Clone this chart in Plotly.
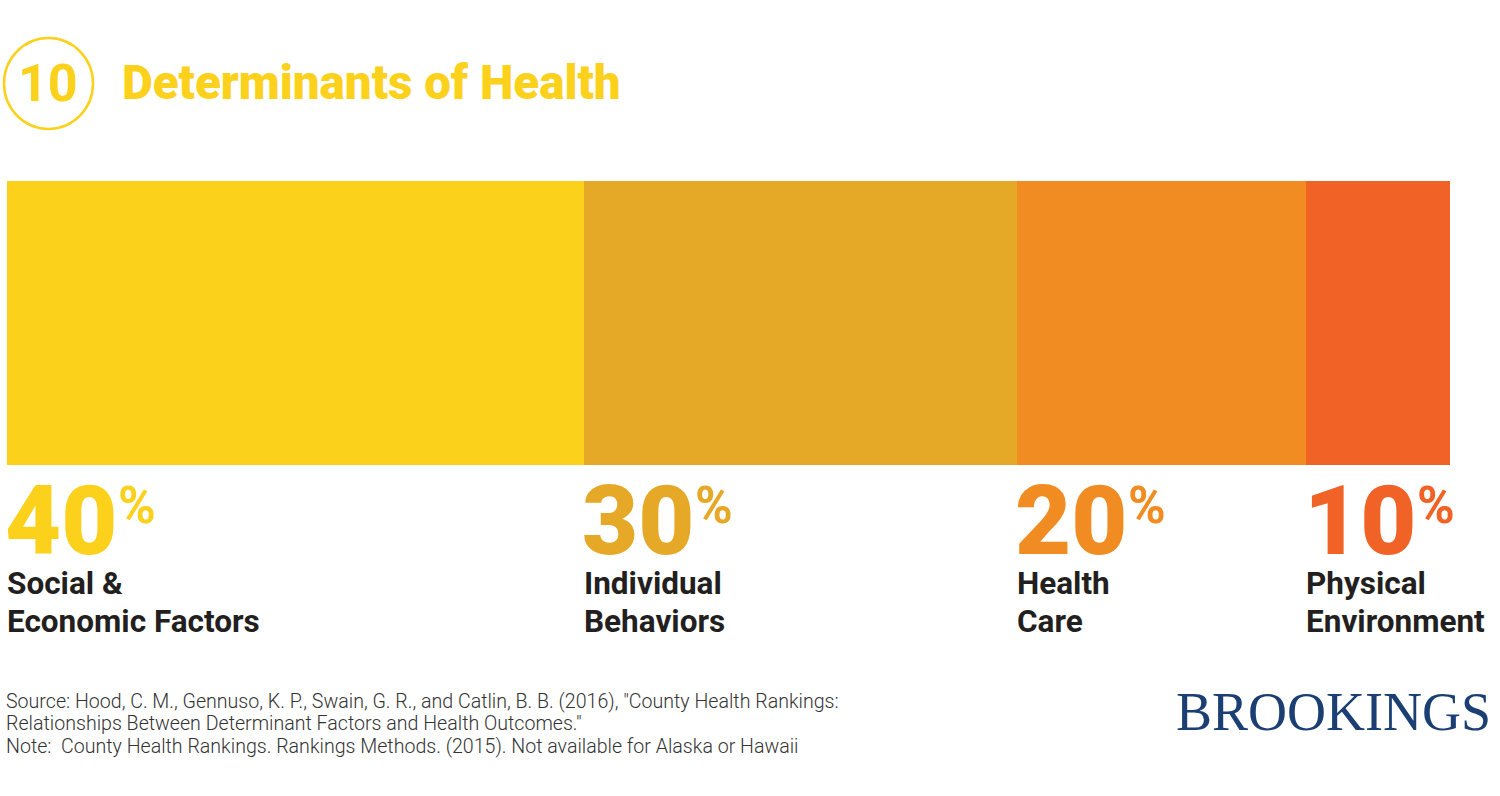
import plotly.graph_objects as go

categories = ["Social &|Economic Factors", "Individual|Behaviors", "Health|Care", "Physical|Environment"]
values = [40, 30, 20, 10]
colors = ["#FCD11C", "#E6A927", "#F18C22", "#F16226"]
title = "Determinants of Health"
badge = "10"
footer_lines = [
    "Source: Hood, C. M., Gennuso, K. P., Swain, G. R., and Catlin, B. B. (2016), \"County Health Rankings:",
    "Relationships Between Determinant Factors and Health Outcomes.\"",
    "Note:  County Health Rankings. Rankings Methods. (2015). Not available for Alaska or Hawaii",
]
brand = "BROOKINGS"

W, H = 1500, 796
def py(p):
    return 1 - p / H

fig = go.Figure()
for cat, v, c in zip(categories, values, colors):
    fig.add_trace(go.Bar(x=[v], y=[0], orientation="h", marker=dict(color=c, line=dict(width=0)),
                         width=1, name=cat.replace("|", " "), hoverinfo="skip"))

fig.update_layout(
    barmode="stack", width=W, height=H, margin=dict(l=0, r=0, t=0, b=0),
    paper_bgcolor="white", plot_bgcolor="white", showlegend=False,
    xaxis=dict(range=[0, 100], domain=[7 / W, 1450 / W], visible=False, fixedrange=True),
    yaxis=dict(range=[-0.5, 0.5], domain=[py(465), py(181)], visible=False, fixedrange=True),
    font=dict(family="Roboto"),
)

ann = []
start = 0
for cat, v, c in zip(categories, values, colors):
    ann.append(dict(x=start, xref="x", y=py(521), yref="paper", xanchor="left", yanchor="middle",
                    text=f"{v}", showarrow=False, xshift=-4,
                    font=dict(family="Roboto", size=97, color=c, weight=900)))
    ann.append(dict(x=start, xref="x", y=py(505), yref="paper", xanchor="left", yanchor="middle",
                    text="%", showarrow=False, xshift=109,
                    font=dict(family="Roboto", size=51, color=c, weight=700)))
    for i, line in enumerate(cat.split("|")):
        ann.append(dict(x=start, xref="x", y=py(583 + 38 * i), yref="paper", xanchor="left", yanchor="middle",
                        text=line, showarrow=False, align="left", xshift=-2,
                        font=dict(family="Roboto", size=31.5, color="#231F20", weight=700)))
    start += v

# Title
ann.append(dict(x=120 / W, xref="paper", y=py(83), yref="paper", xanchor="left", yanchor="middle",
                text=title, showarrow=False,
                font=dict(family="Roboto", size=47.5, color="#FCD11C", weight=900)))
ann.append(dict(x=48 / W, xref="paper", y=py(83), yref="paper", xanchor="center", yanchor="middle",
                text=badge, showarrow=False,
                font=dict(family="Roboto", size=52, color="#FCD11C", weight=700)))

# Footer
for i, line in enumerate(footer_lines):
    ann.append(dict(x=4 / W, xref="paper", y=py(701 + 22.5 * i), yref="paper", xanchor="left", yanchor="middle",
                    text=line, showarrow=False, align="left",
                    font=dict(family="Roboto", size=19.6, color="#333333", weight=300)))
ann.append(dict(x=1493 / W, xref="paper", y=py(712), yref="paper", xanchor="right", yanchor="middle",
                text=brand, showarrow=False,
                font=dict(family="Liberation Serif", size=54, color="#1B3F73")))

fig.update_layout(annotations=ann)
fig.add_shape(type="circle", xref="paper", yref="paper",
              x0=4 / W, x1=93 / W, y0=py(129), y1=py(38),
              line=dict(color="#FCD11C", width=2.5))

fig.write_html("out.html", config={"displayModeBar": False},
               post_script="document.body.style.margin='0';document.body.style.padding='0';")
